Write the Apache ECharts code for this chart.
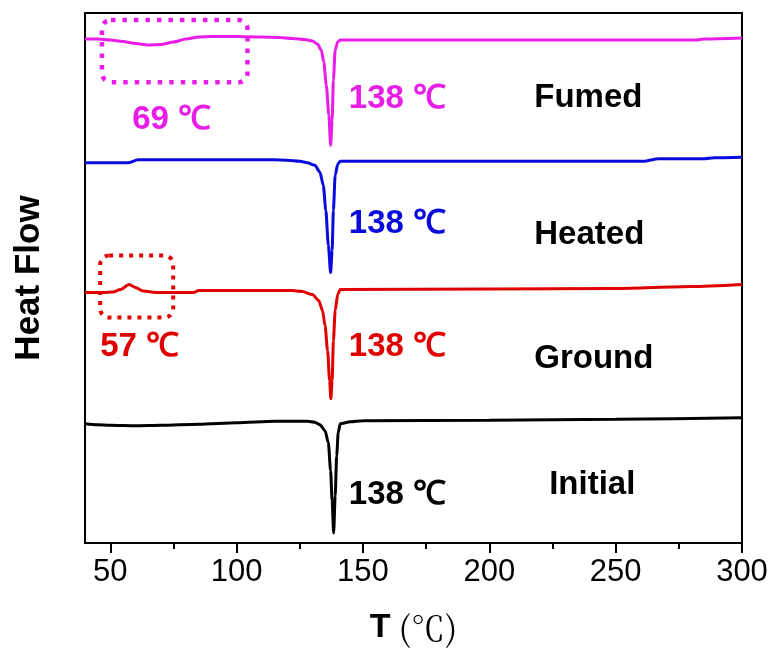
<!DOCTYPE html>
<html>
<head>
<meta charset="utf-8">
<script src="https://cdn.jsdelivr.net/npm/echarts@6/dist/echarts.min.js"></script>
<style>html,body{margin:0;padding:0;background:#fff}#c{width:774px;height:655px}</style>
</head>
<body>
<div id="c"></div>
<script>
// Temperature (°C) / heat flow (arbitrary units, curves stacked with offsets)
const fumedT = [40,45,50,55,60,65,70,75,80,85,90,100,110,117,122,127,130,132,133.5,134.5,135.5,136.5,137.2,137.8,138.3,139,140,141,200,282,285,300];
const fumedHF = [50.3,50.3,50.2,50.05,49.85,49.7,49.75,50.0,50.3,50.5,50.55,50.55,50.5,50.45,50.35,50.25,50.1,49.8,49.2,48.0,45.7,42.7,39.7,42.2,46.2,49.2,50.0,50.2,50.2,50.2,50.3,50.4];

const heatedT = [40,57,61,115,120,125,128,131,133,134.3,135.3,136.3,137.2,137.8,138.3,139,140,141,261,267,285,289,300];
const heatedHF = [37.95,37.95,38.25,38.25,38.2,38.1,37.95,37.7,37.0,35.7,33.2,29.7,27.0,29.2,33.2,36.7,37.8,38.1,38.1,38.35,38.35,38.45,38.5];

const groundT = [40,47,51,54,57.5,60,63,68,83,85,122,126,130,132.5,134,135,136,136.8,137.3,137.8,138.3,139,140,141,200,250,280,300];
const groundHF = [25.0,25.0,25.05,25.3,25.8,25.5,25.15,25.0,25.0,25.2,25.2,25.1,24.8,24.2,23.2,21.7,19.2,16.2,14.4,16.2,20.2,23.2,24.8,25.3,25.35,25.4,25.6,25.8];

const initialT = [40,45,50,60,70,85,100,115,128,131,133,135,136.3,137.2,137.8,138.4,139,139.6,140.2,141,145,150,200,250,300];
const initialHF = [11.9,11.8,11.75,11.7,11.75,11.85,12.0,12.15,12.15,12.05,11.8,11.2,10.0,7.2,4.2,1.0,4.7,8.7,11.0,11.9,12.1,12.2,12.25,12.35,12.5];

const xMajorTicks = [50,100,150,200,250,300];
const xMinorTicks = [75,125,175,225,275];

const seriesNames = ['Fumed','Heated','Ground','Initial'];
const seriesColors = ['#E81EE8','#0A0ADC','#E00000','#000000'];
const peakText = ['138 ℃','138 ℃','138 ℃','138 ℃'];
// anchor [T, HF] for left edge / vertical middle of the label
const peakLabelPos = [[144.4,44.3],[144.4,31.8],[144.4,19.6],[144.4,4.8]];
const nameLabelPos = [[217.8,44.4],[217.8,30.8],[217.8,18.4],[223.7,5.8]];
const transText = ['69 ℃','57 ℃'];
const transColors = ['#E81EE8','#E00000'];
const transLabelPos = [[58.7,42.2],[46,19.6]];
// dotted boxes: [Tmin, Tmax, HFmin, HFmax]
const transBoxes = [[46.7,104.3,46.0,52.2],[46,74.9,22.5,28.7]];

const allData = [[fumedT,fumedHF],[heatedT,heatedHF],[groundT,groundHF],[initialT,initialHF]];
const zip = (a,b)=>a.map((v,i)=>[v,b[i]]);

const chart = echarts.init(document.getElementById('c'), null, {renderer:'canvas'});
const FONT = '"Liberation Sans", Arial, Helvetica, sans-serif';

chart.setOption({
  animation:false,
  backgroundColor:'#fff',
  grid:{left:85,right:32,top:13,bottom:112,show:true,borderColor:'#000',borderWidth:2,backgroundColor:'transparent'},
  xAxis:[{
    type:'value',min:40,max:300,
    name:'{b|T}{s|(℃)}',nameLocation:'middle',nameGap:68,
    nameTextStyle:{rich:{b:{fontFamily:FONT,fontWeight:'bold',fontSize:34,color:'#000',padding:[0,8,0,0]},s:{fontFamily:'"Noto Serif CJK SC","Liberation Serif","DejaVu Serif",serif',fontSize:34,color:'#000'}}},
    axisLine:{show:true,lineStyle:{color:'#000',width:2}},
    axisTick:{show:true,inside:false,length:10,lineStyle:{color:'#000',width:2},customValues:xMajorTicks},
    axisLabel:{show:true,fontFamily:FONT,fontSize:31,color:'#000',margin:14,customValues:xMajorTicks},
    splitLine:{show:false}
  },{
    type:'value',min:40,max:300,position:'bottom',
    axisLine:{show:false},
    axisTick:{show:true,length:6,lineStyle:{color:'#000',width:2},customValues:xMinorTicks},
    axisLabel:{show:false},splitLine:{show:false}
  }],
  yAxis:{
    type:'value',min:0,max:52.9,
    name:'Heat Flow',nameLocation:'middle',nameGap:38,
    nameTextStyle:{fontFamily:FONT,fontWeight:'bold',fontSize:35,color:'#000'},
    axisLine:{show:true,lineStyle:{color:'#000',width:2}},
    axisTick:{show:false},axisLabel:{show:false},splitLine:{show:false}
  },
  series: allData.map((d,i)=>({
    name:seriesNames[i],type:'line',data:zip(d[0],d[1]),
    showSymbol:false,symbol:'none',smooth:0.25,smoothMonotone:'x',
    lineStyle:{color:seriesColors[i],width:3},
    z:3
  }))
});

function drawAnnotations(){
  const g = [];
  const px = (t,v)=>chart.convertToPixel({gridIndex:0},[t,v]);
  peakLabelPos.forEach((p,i)=>{
    const q = px(p[0],p[1]);
    g.push({type:'text',x:q[0],y:q[1],style:{text:peakText[i],fill:seriesColors[i],font:'bold 33px '+FONT,textAlign:'left',textVerticalAlign:'middle'},z:10});
  });
  nameLabelPos.forEach((p,i)=>{
    const q = px(p[0],p[1]);
    g.push({type:'text',x:q[0],y:q[1],style:{text:seriesNames[i],fill:'#000',font:'bold 33px '+FONT,textAlign:'left',textVerticalAlign:'middle'},z:10});
  });
  transLabelPos.forEach((p,i)=>{
    const q = px(p[0],p[1]);
    g.push({type:'text',x:q[0],y:q[1],style:{text:transText[i],fill:transColors[i],font:'bold 33px '+FONT,textAlign:'left',textVerticalAlign:'middle'},z:10});
  });
  transBoxes.forEach((b,i)=>{
    const a = px(b[0],b[3]); const c = px(b[1],b[2]);
    g.push({type:'rect',shape:{x:a[0],y:a[1],width:c[0]-a[0],height:c[1]-a[1],r:9},
      style:{fill:'none',stroke:transColors[i],lineWidth:i===0?4.5:4,lineDash:i===0?[4.5,7]:[4,6]},z:9});
  });
  chart.setOption({graphic:g});
}
drawAnnotations();
</script>
</body>
</html>
